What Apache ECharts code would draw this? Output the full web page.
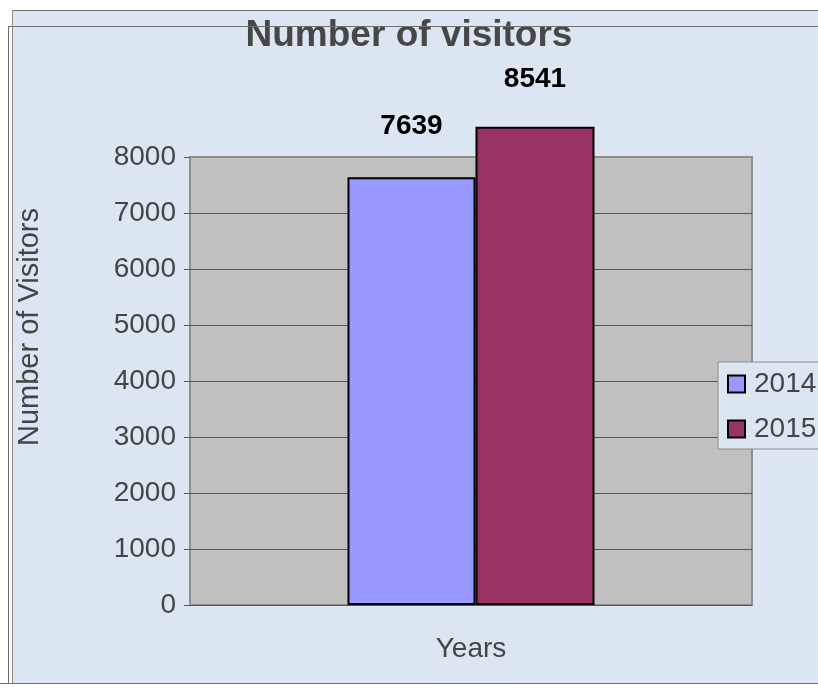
<!DOCTYPE html>
<html>
<head>
<meta charset="utf-8">
<style>
html,body{margin:0;padding:0;background:#fff;}
#chart{width:818px;height:690px;}
</style>
<script src="https://cdn.jsdelivr.net/npm/echarts@6/dist/echarts.min.js"></script>
</head>
<body>
<div id="chart"></div>
<script>
const titleText = 'Number of visitors';
const categories = [''];
const seriesNames = ['2014', '2015'];
const values2014 = [7639];
const values2015 = [8541];
const yMin = 0, yMax = 8000, yInterval = 1000;
const yAxisName = 'Number of Visitors';
const xAxisName = 'Years';

const chart = echarts.init(document.getElementById('chart'), null, {renderer: 'canvas'});
const txt = '#444444';
const font = 'Liberation Sans, Arial, sans-serif';

chart.setOption({
  animation: false,
  backgroundColor: '#ffffff',
  textStyle: {fontFamily: font},
  title: {
    text: titleText, left: 'center', top: 12,
    textStyle: {fontSize: 37, fontWeight: 'bold', color: '#474747', fontFamily: font}
  },
  graphic: [
    {type: 'rect', z: -100, shape: {x: 12, y: 10, width: 806, height: 673}, style: {fill: '#dce6f3'}},
    {type: 'line', z: 100, shape: {x1: 12, y1: 10.5, x2: 818, y2: 10.5}, style: {stroke: '#6e6e6e', lineWidth: 1}},
    {type: 'line', z: 100, shape: {x1: 8, y1: 26.5, x2: 818, y2: 26.5}, style: {stroke: '#6e6e6e', lineWidth: 1}},
    {type: 'line', z: 100, shape: {x1: 8.5, y1: 26, x2: 8.5, y2: 683}, style: {stroke: '#6e6e6e', lineWidth: 1}},
    {type: 'line', z: 100, shape: {x1: 12.5, y1: 10, x2: 12.5, y2: 683}, style: {stroke: '#8a8a8a', lineWidth: 1}},
    {type: 'line', z: 100, shape: {x1: 0, y1: 683.5, x2: 818, y2: 683.5}, style: {stroke: '#6e6e6e', lineWidth: 1}}
  ],
  legend: {
    data: seriesNames.map(n => ({name: n, icon: 'rect'})),
    orient: 'vertical',
    left: 718, top: 362,
    padding: [8, 10, 6, 9],
    itemWidth: 17, itemHeight: 17, itemGap: 17,
    backgroundColor: '#dce6f3',
    borderColor: '#8a8a8a', borderWidth: 1,
    textStyle: {fontSize: 28, color: txt, lineHeight: 28, fontFamily: font, padding: [0, 0, 0, 4]}
  },
  grid: {
    left: 190, right: 66, top: 157, bottom: 85,
    show: true, backgroundColor: '#c0c0c0', borderColor: '#8f8f8f', borderWidth: 2
  },
  xAxis: {
    type: 'category',
    data: categories,
    name: xAxisName,
    nameLocation: 'middle',
    nameGap: 30,
    nameTextStyle: {fontSize: 28, color: txt, fontFamily: font},
    axisLine: {show: false},
    axisTick: {show: false},
    axisLabel: {show: false}
  },
  yAxis: {
    type: 'value',
    min: yMin, max: yMax, interval: yInterval,
    name: yAxisName,
    nameLocation: 'middle',
    nameGap: 146,
    nameRotate: 90,
    nameTextStyle: {fontSize: 29, color: txt, fontFamily: font, padding: [0, 0, 0, 108]},
    axisLine: {show: false},
    axisTick: {show: true, length: 6, lineStyle: {color: '#555'}},
    axisLabel: {fontSize: 28, color: txt, margin: 14, fontFamily: font, formatter: v => String(v)},
    splitLine: {show: true, showMaxLine: false, lineStyle: {color: '#555555', width: 1}}
  },
  series: [
    {
      name: seriesNames[0], type: 'bar', data: values2014, clip: false,
      barWidth: 128, barGap: '0%',
      itemStyle: {color: '#9999ff', borderColor: '#000', borderWidth: 2},
      label: {show: true, position: 'top', distance: 37, fontSize: 28, fontWeight: 'bold', color: '#000', fontFamily: font}
    },
    {
      name: seriesNames[1], type: 'bar', data: values2015, clip: false,
      barWidth: 119, barGap: '0%',
      itemStyle: {color: '#993366', borderColor: '#000', borderWidth: 2},
      label: {show: true, position: 'top', distance: 33, fontSize: 28, fontWeight: 'bold', color: '#000', fontFamily: font}
    }
  ]
});
</script>
</body>
</html>
